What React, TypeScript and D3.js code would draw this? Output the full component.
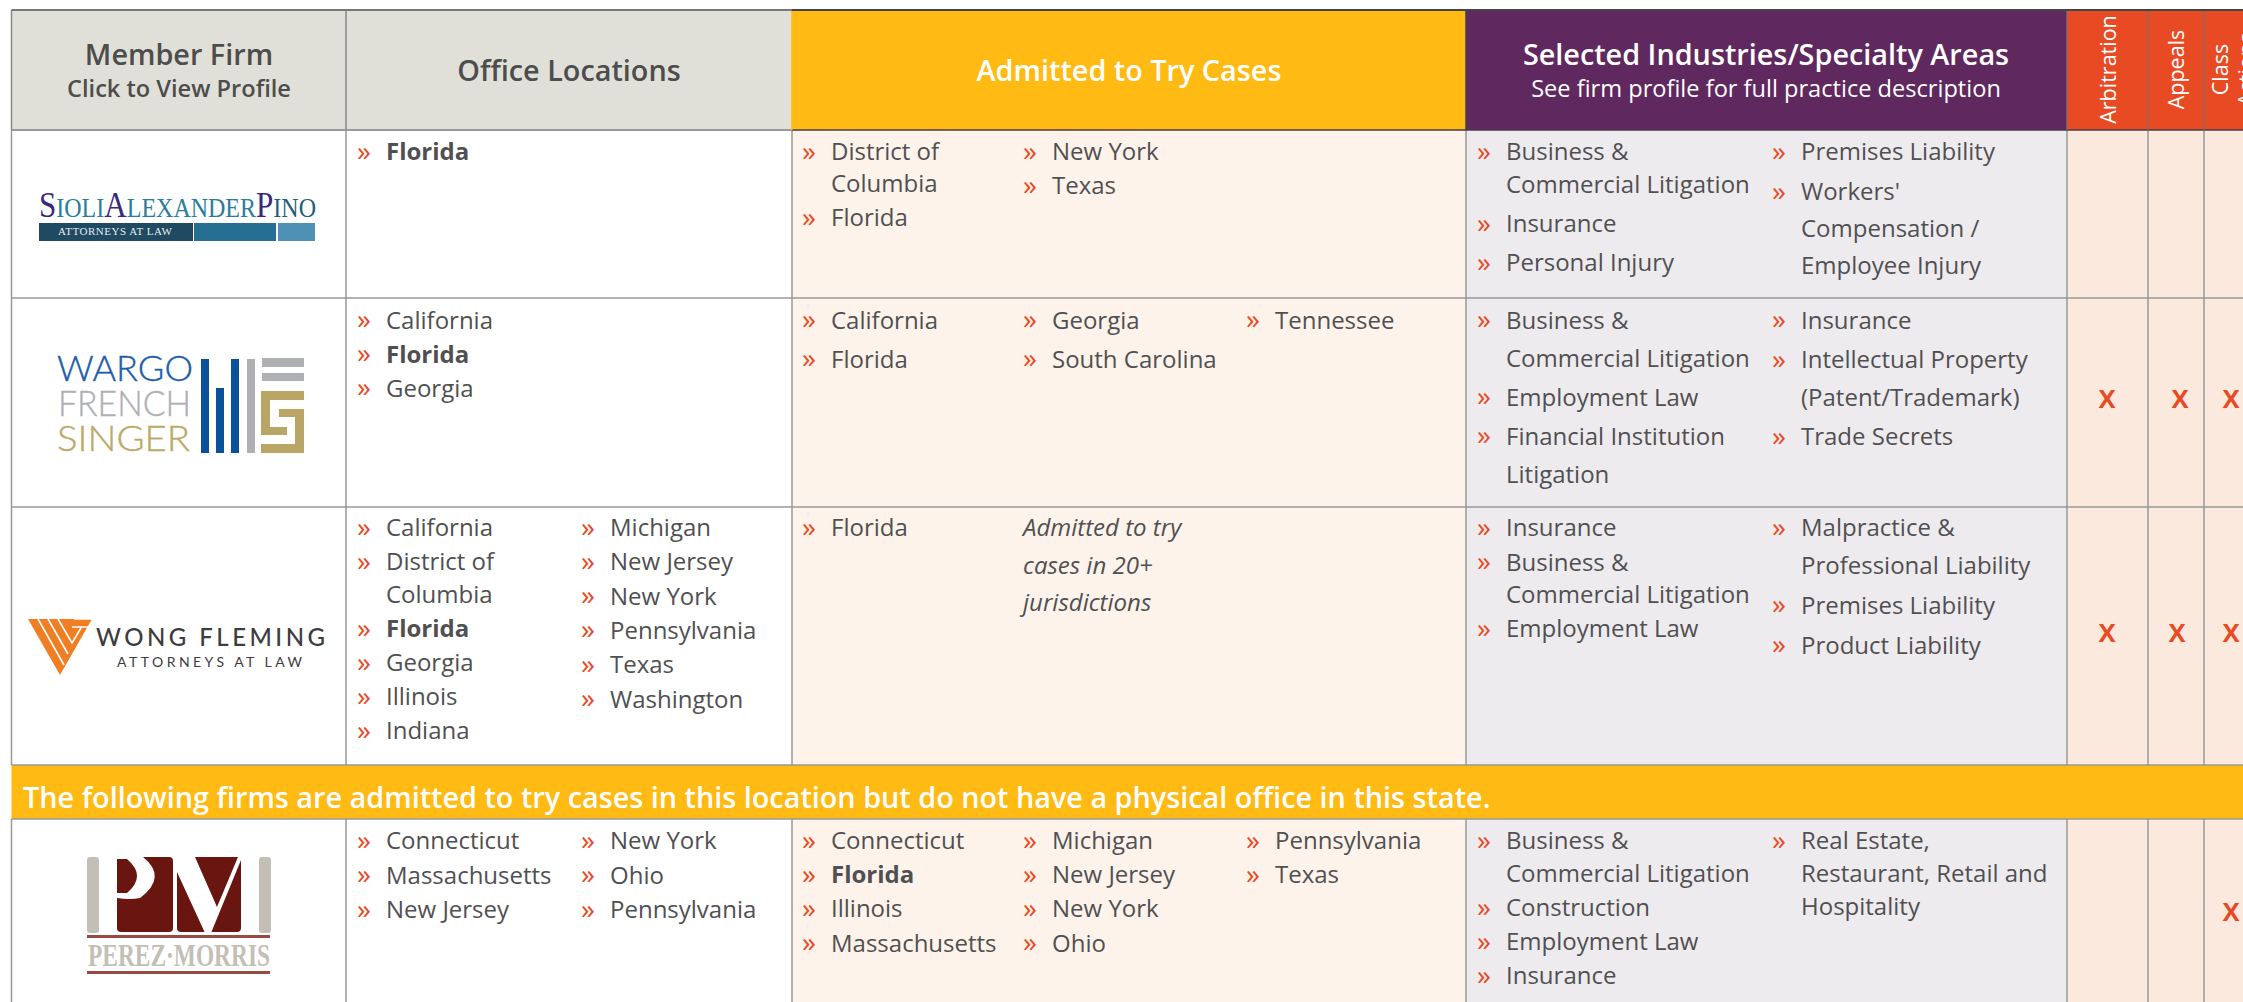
import React from "react";
import * as d3 from "d3";

const W = 2243, H = 1002;
const FONT = "'Open Sans', sans-serif";

// ---------- data ----------
const columnKeys = ["firm", "offices", "admitted", "specialty", "arbitration", "appeals", "classActions"];
const rowKeys = ["sioli", "wargo", "wong", "banner", "perez"];

const sioliOffices = [["Florida"]];
const sioliAdmitted = [["District of\nColumbia", "Florida"], ["New York", "Texas"]];
const sioliSpecialty = [["Business &\nCommercial Litigation", "Insurance", "Personal Injury"], ["Premises Liability", "Workers'\nCompensation /\nEmployee Injury"]];

const wargoOffices = [["California", "Florida", "Georgia"]];
const wargoAdmitted = [["California", "Florida"], ["Georgia", "South Carolina"], ["Tennessee"]];
const wargoSpecialty = [["Business &\nCommercial Litigation", "Employment Law", "Financial Institution\nLitigation"], ["Insurance", "Intellectual Property\n(Patent/Trademark)", "Trade Secrets"]];

const wongOffices = [["California", "District of\nColumbia", "Florida", "Georgia", "Illinois", "Indiana"], ["Michigan", "New Jersey", "New York", "Pennsylvania", "Texas", "Washington"]];
const wongAdmitted = [["Florida"]];
const wongNote = "Admitted to try\ncases in 20+\njurisdictions";
const wongSpecialty = [["Insurance", "Business &\nCommercial Litigation", "Employment Law"], ["Malpractice &\nProfessional Liability", "Premises Liability", "Product Liability"]];

const perezOffices = [["Connecticut", "Massachusetts", "New Jersey"], ["New York", "Ohio", "Pennsylvania"]];
const perezAdmitted = [["Connecticut", "Florida", "Illinois", "Massachusetts"], ["Michigan", "New Jersey", "New York", "Ohio"], ["Pennsylvania", "Texas"]];
const perezSpecialty = [["Business &\nCommercial Litigation", "Construction", "Employment Law", "Insurance"], ["Real Estate,\nRestaurant, Retail and\nHospitality"]];

const arbitrationMarks = ["wargo", "wong"];
const appealsMarks = ["wargo", "wong"];
const classActionMarks = ["wargo", "wong", "perez"];
const bannerText = "The following firms are admitted to try cases in this location but do not have a physical office in this state.";

// ---------- layout ----------
const colX = d3.scaleOrdinal<string, number>().domain([...columnKeys, "end"]).range([11.5, 346, 792, 1466, 2067, 2148, 2204, 2243]);
const rowY = d3.scaleOrdinal<string, number>().domain(["head", ...rowKeys, "end"]).range([10, 130, 298, 507, 765, 819, 1002]);
const rowEnd: Record<string, string> = { head: "sioli", sioli: "wargo", wargo: "wong", wong: "banner", banner: "perez", perez: "end" };

const bulletX: Record<string, number[]> = { offices: [358, 582], admitted: [803, 1024, 1247], specialty: [1478, 1773] };
const BULLET_GAP = 28;
const firstBase: Record<string, number> = { sioli: 30, wargo: 30.5, wong: 29, perez: 30 };

type Spacing = { step: number; gap: number };
const spacing: Record<string, Record<string, Spacing[]>> = {
  sioli: {
    offices: [{ step: 34, gap: 0 }],
    admitted: [{ step: 32, gap: 2 }, { step: 34, gap: 0 }],
    specialty: [{ step: 33, gap: 6 }, { step: 37, gap: 3 }],
  },
  wargo: {
    offices: [{ step: 34, gap: 0 }],
    admitted: [{ step: 39, gap: 0 }, { step: 39, gap: 0 }, { step: 39, gap: 0 }],
    specialty: [{ step: 38, gap: 1 }, { step: 37.5, gap: 2 }],
  },
  wong: {
    offices: [{ step: 33, gap: 1 }, { step: 34.3, gap: 0 }],
    admitted: [{ step: 34, gap: 0 }],
    specialty: [{ step: 32, gap: 2.5 }, { step: 37.5, gap: 2.5 }],
  },
  perez: {
    offices: [{ step: 34.5, gap: 0 }, { step: 34.5, gap: 0 }],
    admitted: [{ step: 34.2, gap: 0 }, { step: 34.2, gap: 0 }, { step: 34.2, gap: 0 }],
    specialty: [{ step: 33, gap: 1 }, { step: 33, gap: 0 }],
  },
};

const rowsData: Record<string, Record<string, string[][]>> = {
  sioli: { offices: sioliOffices, admitted: sioliAdmitted, specialty: sioliSpecialty },
  wargo: { offices: wargoOffices, admitted: wargoAdmitted, specialty: wargoSpecialty },
  wong: { offices: wongOffices, admitted: wongAdmitted, specialty: wongSpecialty },
  perez: { offices: perezOffices, admitted: perezAdmitted, specialty: perezSpecialty },
};

const markColumns: [string, string[], number][] = [
  ["arbitration", arbitrationMarks, 2107],
  ["appeals", appealsMarks, 2177],
  ["classActions", classActionMarks, 2231],
];
const markY: Record<string, number> = { wargo: 398, wong: 632, perez: 911 };

const C = {
  grey: "#e0e0d9", gold: "#ffba13", purple: "#5f285f", orange: "#e84b23",
  admitted: "#fef3ea", specialty: "#eeebef", xcol: "#fbe9de", border: "#999999", text: "#505052",
};

const isBold = (row: string, col: string, item: string) =>
  item === "Florida" && (col === "offices" || (col === "admitted" && row === "perez"));

function Lists({ row, col }: { row: string; col: string }) {
  const top = rowY(row) + firstBase[row];
  return (
    <g>
      {rowsData[row][col].map((items, ci) => {
        const { step, gap } = spacing[row][col][ci];
        let y = top;
        const bx = bulletX[col][ci];
        return items.map((item, ii) => {
          const lines = item.split("\n");
          const y0 = y;
          y += lines.length * step + gap;
          return (
            <g key={ci + "-" + ii}>
              <text x={bx - 1} y={y0 + 0.5} fontSize={28} fill={C.orange} fontFamily={FONT}>»</text>
              {lines.map((l, li) => (
                <text key={li} x={bx + BULLET_GAP} y={y0 + li * step} fontSize={24} fill={C.text}
                  fontFamily={FONT} fontWeight={isBold(row, col, item) ? 700 : 400}>{l}</text>
              ))}
            </g>
          );
        });
      })}
    </g>
  );
}

function SioliLogo() {
  const navy = "#38297a", teal = "#2a7d9c";
  const parts: [string, number, string][] = [["S", 35, navy], ["IOLI", 27, teal], ["A", 35, navy], ["LEXANDER", 27, teal], ["P", 35, navy], ["INO", 27, "#1f5f78"]];
  return (
    <g fontFamily="'Liberation Serif', serif">
      <text x={39} y={217} textLength={277} lengthAdjust="spacingAndGlyphs">
        {parts.map(([t, s, c], i) => <tspan key={i} fontSize={s} fill={c}>{t}</tspan>)}
      </text>
      <rect x={39} y={223} width={154} height={18} fill="#1f4a62" />
      <rect x={194} y={223} width={82} height={18} fill="#266e92" />
      <rect x={278} y={223} width={37} height={18} fill="#4f90b5" />
      <text x={58} y={235} fontSize={11} fill="#e6ecef" textLength={114}>ATTORNEYS AT LAW</text>
    </g>
  );
}

function WargoLogo() {
  return (
    <g>
      <g fontFamily="Lato, sans-serif" fontWeight={300} fontSize={36} strokeWidth={0.4}>
        <text x={57} y={381} fill="#1e5ea8" stroke="#1e5ea8" textLength={136} lengthAdjust="spacingAndGlyphs">WARGO</text>
        <text x={58} y={416} fill="#aeb0b4" stroke="#aeb0b4" textLength={133} lengthAdjust="spacingAndGlyphs">FRENCH</text>
        <text x={57} y={451} fill="#bca968" stroke="#bca968" textLength={133} lengthAdjust="spacingAndGlyphs">SINGER</text>
      </g>
      <rect x={201} y={359} width={8} height={94} fill="#0a519c" />
      <rect x={216} y={388} width={8} height={65} fill="#0a519c" />
      <rect x={231} y={359} width={8} height={94} fill="#0a519c" />
      <rect x={247} y={359} width={8} height={94} fill="#aeb0b4" />
      <rect x={262} y={358} width={42} height={9} fill="#aeb0b4" />
      <rect x={262} y={373} width={42} height={8} fill="#aeb0b4" />
      <path d="M261 391H304V400H270V427H287V435H261Z" fill="#b9a667" />
      <path d="M279 409H304V453H261V444H295V417H279Z" fill="#b9a667" />
    </g>
  );
}

function WongLogo() {
  return (
    <g>
      <path d="M28 619H92L60 675Z" fill="#f07f23" />
      <g stroke="#fff" strokeWidth={1.6} fill="none">
        <path d="M38 619L64 665M48 619L68 654" />
        <path d="M58 619L72 643L81 628M72 627H92M74 619H92" />
      </g>
      <text x={96} y={646} fontFamily="Lato, sans-serif" fontWeight={500} fontSize={24} fill="#3d3d3f" textLength={229}>WONG FLEMING</text>
      <text x={117} y={667} fontFamily="Lato, sans-serif" fontSize={14} fill="#3d3d3f" textLength={185}>ATTORNEYS AT LAW</text>
    </g>
  );
}

function PerezLogo() {
  const red = "#6a1610", sand = "#c4bfb6";
  return (
    <g>
      <rect x={87} y={857} width={12} height={76} rx={3} fill={sand} />
      <rect x={259} y={857} width={12} height={76} rx={3} fill={sand} />
      <rect x={117} y={857} width={56} height={75} rx={4} fill={red} />
      <rect x={177} y={857} width={64} height={75} rx={4} fill={red} />
      <path d="M117 857H143Q168 877 140 898Q130 900 117 898Z" fill="#fff" />
      <path d="M117 859H127Q147 876 127 893H117Z" fill={red} />
      <path d="M177 857H195L217 907L238 857H241V860L211 933H205L177 872Z" fill="#fff" />
      <rect x={87} y={935} width={183} height={3} fill="#9a4a44" />
      <text x={88} y={966} fontFamily="'Liberation Serif', serif" fontWeight={700} fontSize={32} fill={sand} textLength={182} lengthAdjust="spacingAndGlyphs">PEREZ·MORRIS</text>
      <rect x={87} y={971} width={183} height={3} fill="#9a4a44" />
    </g>
  );
}

function fillFor(col: string) {
  if (col === "admitted") return C.admitted;
  if (col === "specialty") return C.specialty;
  if (["arbitration", "appeals", "classActions"].includes(col)) return C.xcol;
  return "#ffffff";
}

const headFills: Record<string, string> = {
  firm: C.grey, offices: C.grey, admitted: C.gold, specialty: C.purple,
  arbitration: C.orange, appeals: C.orange, classActions: C.orange,
};

const nextCol = (c: string) => columnKeys[columnKeys.indexOf(c) + 1] ?? "end";

export default function App() {
  const bodyRows = rowKeys.filter((r) => r !== "banner");
  const cols = columnKeys;
  const hTop = rowY("head"), hBot = rowY("sioli");
  return (
    <svg width={W} height={H} style={{ position: "absolute", left: 0, top: 0, display: "block" }}>
      <rect width={W} height={H} fill="#fff" />
      {cols.map((c) => (
        <rect key={c} x={colX(c)} y={hTop} width={colX(nextCol(c)) - colX(c)} height={hBot - hTop} fill={headFills[c]} />
      ))}
      {bodyRows.map((r) => cols.map((c) => (
        <rect key={r + c} x={colX(c)} y={rowY(r)} width={colX(nextCol(c)) - colX(c)} height={rowY(rowEnd[r]) - rowY(r)} fill={fillFor(c)} />
      )))}
      <rect x={colX("firm")} y={rowY("banner")} width={W} height={rowY("perez") - rowY("banner")} fill={C.gold} />

      {/* grid */}
      {bodyRows.map((r) => cols.map((c) => (
        <line key={r + c} x1={colX(c)} x2={colX(c)} y1={rowY(r)} y2={rowY(rowEnd[r])} stroke={C.border} strokeWidth={1.5} />
      )))}
      {["sioli", "wargo", "wong", "banner", "perez"].map((r) => (
        <line key={r} x1={colX("firm")} x2={r === "sioli" ? colX("admitted") : W} y1={rowY(r)} y2={rowY(r)} stroke={C.border} strokeWidth={r === "sioli" ? 2 : 1.5} />
      ))}
      <line x1={colX("admitted")} x2={W} y1={rowY("sioli")} y2={rowY("sioli")} stroke="#4a3a44" strokeWidth={1.5} />
      {["firm", "offices", "admitted", "specialty", "arbitration", "appeals", "classActions"].map((c) => (
        <line key={c} x1={colX(c)} x2={colX(c)} y1={hTop} y2={hBot} stroke={c === "firm" || c === "offices" ? "#888" : c === "admitted" ? C.gold : c === "specialty" ? "#4a3a44" : "#8a6a60"} strokeWidth={1.5} />
      ))}
      <line x1={colX("firm")} x2={colX("admitted")} y1={hTop} y2={hTop} stroke="#777" strokeWidth={2} />
      <line x1={colX("admitted")} x2={W} y1={hTop} y2={hTop} stroke="#444" strokeWidth={2} />

      {/* header */}
      <g fontFamily={FONT} textAnchor="middle">
        <text x={179} y={65} fontSize={28.8} fontWeight={600} fill="#4d4d4d">Member Firm</text>
        <text x={179} y={97} fontSize={23.6} fontWeight={600} fill="#4d4d4d">Click to View Profile</text>
        <text x={569} y={81} fontSize={28.8} fontWeight={600} fill="#4d4d4d">Office Locations</text>
        <text x={1129} y={81} fontSize={28.8} fontWeight={600} fill="#fff">Admitted to Try Cases</text>
        <text x={1766} y={65} fontSize={28.8} fontWeight={600} fill="#fff">Selected Industries/Specialty Areas</text>
        <text x={1766} y={97} fontSize={23.6} fill="#fff">See firm profile for full practice description</text>
        <g fontSize={21.5} fill="#fff">
          <text transform="translate(2116,69.5) rotate(-90)">Arbitration</text>
          <text transform="translate(2184,69.5) rotate(-90)">Appeals</text>
          <text transform="translate(2228,69.5) rotate(-90)">Class</text>
          <text transform="translate(2254,69.5) rotate(-90)">Actions</text>
        </g>
      </g>

      {bodyRows.map((r) => (
        <g key={r}>
          <Lists row={r} col="offices" />
          <Lists row={r} col="admitted" />
          <Lists row={r} col="specialty" />
        </g>
      ))}

      {wongNote.split("\n").map((l, i) => (
        <text key={i} x={1023} y={rowY("wong") + firstBase.wong + i * 37.5} fontSize={24} fontStyle="italic" fill={C.text} fontFamily={FONT}>{l}</text>
      ))}

      <text x={23} y={808} fontSize={28.8} fontWeight={600} fill="#fff" fontFamily={FONT}>{bannerText}</text>

      {markColumns.map(([c, rows, x]) => rows.map((r) => (
        <text key={c + r} x={r === "wargo" && c === "appeals" ? x + 3 : x} y={markY[r] + 10} textAnchor="middle" fontSize={32} fontWeight={600} fill={C.orange} fontFamily={FONT}>x</text>
      )))}

      <SioliLogo />
      <WargoLogo />
      <WongLogo />
      <PerezLogo />
    </svg>
  );
}
